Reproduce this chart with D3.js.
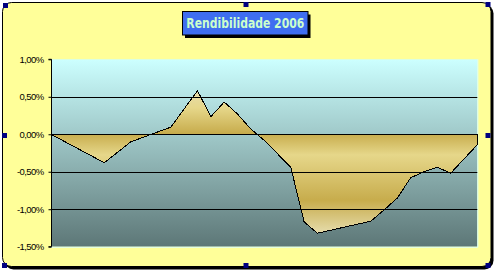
<!DOCTYPE html>
<html>
<head>
<meta charset="utf-8">
<script src="https://cdn.jsdelivr.net/npm/d3@7"></script>
<style>
  html, body { margin: 0; padding: 0; background: #fff; }
  svg { display: block; }
</style>
</head>
<body>
<div id="chart"></div>
<script>
const width = 495;
const height = 272;

// weekly return, in %
const weeks = d3.range(1, 34);
const values = [
    0.00, -0.095, -0.19, -0.285, -0.38, -0.24, -0.10, -0.035, 0.03, 0.095,
    0.34, 0.58, 0.235, 0.43, 0.27, 0.07, -0.08, -0.26, -0.44, -1.17,
    -1.32, -1.28, -1.24, -1.20, -1.16, -1.01, -0.85, -0.58, -0.50, -0.44,
    -0.52, -0.33, -0.14
];
const yTicks = [1.0, 0.5, 0.0, -0.5, -1.0, -1.5];
const gridValues = [0.5, 0.0, -0.5, -1.0];
const title = 'Rendibilidade 2006';

const plot = {left: 51, right: 477.3, top: 59.3, bottom: 246.7};

let svg = d3.select('#chart').append('svg')
    .attr('width', width)
    .attr('height', height);

let defs = svg.append('defs');

let bgGrad = defs.append('linearGradient')
    .attr('id', 'plotBg')
    .attr('x1', 0).attr('y1', 0).attr('x2', 0).attr('y2', 1);
bgGrad.append('stop').attr('offset', '0%').attr('stop-color', '#ccffff');
bgGrad.append('stop').attr('offset', '100%').attr('stop-color', '#5d7777');

// excel "gold" preset
let goldGrad = defs.append('linearGradient')
    .attr('id', 'gold')
    .attr('x1', 0).attr('y1', 0).attr('x2', 0).attr('y2', 1);
[[0, '#e6dcac'], [12, '#e6d78a'], [30, '#c7ac4c'], [45, '#e6d78a'], [77, '#c7ac4c'], [100, '#e6dcac']]
    .forEach(s => goldGrad.append('stop').attr('offset', s[0] + '%').attr('stop-color', s[1]));

// chart area with shadow
svg.append('rect')
    .attr('x', 4.5).attr('y', 4.5)
    .attr('width', 489).attr('height', 265)
    .attr('rx', 9)
    .attr('fill', '#000');
svg.append('rect')
    .attr('x', 2.5).attr('y', 2.5)
    .attr('width', 488.5).attr('height', 264)
    .attr('rx', 9)
    .attr('fill', '#ffff99')
    .attr('stroke', '#000')
    .attr('stroke-width', 1);

let x = d3.scaleLinear()
    .domain([0, weeks.length - 1])
    .range([plot.left, plot.right]);

let y = d3.scaleLinear()
    .domain([-1.5, 1.0])
    .range([plot.bottom, plot.top]);

svg.append('rect')
    .attr('x', plot.left).attr('y', plot.top)
    .attr('width', plot.right - plot.left)
    .attr('height', plot.bottom - plot.top)
    .attr('fill', 'url(#plotBg)');

svg.append('path')
    .attr('d', `M${plot.right + 0.5},${plot.top}V${plot.bottom + 0.5}H${plot.left}`)
    .attr('fill', 'none')
    .attr('stroke', '#d8ffff')
    .attr('stroke-width', 1);

let area = d3.area()
    .x((d, i) => x(i))
    .y0(y(0))
    .y1(d => y(d));

svg.append('path')
    .datum(values)
    .attr('d', area)
    .attr('fill', 'url(#gold)');

svg.selectAll('line.grid')
    .data(gridValues)
    .enter()
    .append('line')
    .attr('class', 'grid')
    .attr('x1', plot.left).attr('x2', plot.right)
    .attr('y1', d => Math.round(y(d)) + 0.5)
    .attr('y2', d => Math.round(y(d)) + 0.5)
    .attr('stroke', '#000')
    .attr('stroke-width', 1);

svg.append('path')
    .datum(values)
    .attr('d', area)
    .attr('fill', 'none')
    .attr('stroke', '#000')
    .attr('stroke-width', 1)
    .attr('shape-rendering', 'crispEdges');

let fmt = d => d3.format('.2f')(d).replace('.', ',').replace('−', '-') + '%';

let yAxis = d3.axisLeft(y)
    .tickValues(yTicks)
    .tickSize(3)
    .tickPadding(5)
    .tickFormat(fmt);

let axisG = svg.append('g')
    .attr('transform', 'translate(' + (plot.left + 0.5) + ',0)')
    .call(yAxis);
axisG.select('.domain')
    .attr('stroke', '#000')
    .attr('d', `M-3,${plot.top}H0V${plot.bottom}H-3`);
axisG.selectAll('.tick line').attr('stroke', '#000');
axisG.selectAll('.tick text')
    .attr('fill', '#000')
    .attr('font-family', 'Liberation Sans, Arial, sans-serif')
    .attr('font-size', 9.5)
    .attr('letter-spacing', -0.6);

// title box
svg.append('rect')
    .attr('x', 185).attr('y', 14.5)
    .attr('width', 125.5).attr('height', 23.5)
    .attr('fill', '#000');
svg.append('rect')
    .attr('x', 182.5).attr('y', 11.5)
    .attr('width', 125.5).attr('height', 23.5)
    .attr('fill', '#3f6ef0')
    .attr('stroke', '#000')
    .attr('stroke-width', 1);
svg.append('text')
    .attr('x', 245.3).attr('y', 27.8)
    .attr('text-anchor', 'middle')
    .attr('font-family', 'DejaVu Sans, Liberation Sans, sans-serif')
    .attr('font-weight', 'bold')
    .attr('font-size', 14)
    .attr('textLength', 118)
    .attr('lengthAdjust', 'spacingAndGlyphs')
    .attr('fill', '#ccffcc')
    .text(title);

// selection handles
const handles = [
    [3, 3], [243.5, 2], [485.5, 2],
    [2, 133], [485.5, 133],
    [2, 263], [243.5, 263], [485.5, 263]
];
svg.selectAll('rect.handle')
    .data(handles)
    .enter()
    .append('rect')
    .attr('class', 'handle')
    .attr('x', d => d[0]).attr('y', d => d[1])
    .attr('width', 5).attr('height', 5)
    .attr('fill', '#000080');
</script>
</body>
</html>
